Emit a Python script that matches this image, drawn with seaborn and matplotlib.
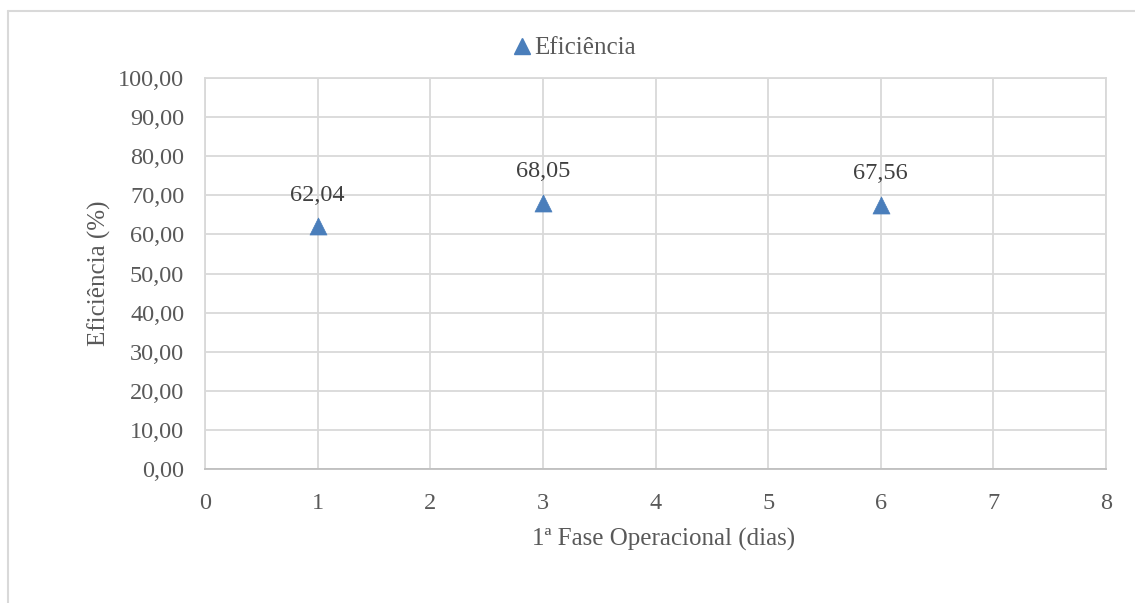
import matplotlib
matplotlib.use("Agg")
import matplotlib.pyplot as plt
import seaborn as sns
import pandas as pd
from matplotlib.lines import Line2D

# Efficiency measured during the first operational phase
dias = [1, 3, 6]
eficiencia = [62.04, 68.05, 67.56]
serie = "Eficiência"

sns.set_theme(style="white")
plt.rcParams["font.family"] = ["Liberation Serif", "DejaVu Serif"]

df = pd.DataFrame({"dias": dias, "eficiencia": eficiencia})

fig = plt.figure(figsize=(11.35, 6.03), dpi=100)
ax = fig.add_axes([205 / 1135, 1 - 469 / 603, (1106 - 205) / 1135, (469 - 78) / 603])

blue = "#4A7EBB"
text_col = "#595959"
grid_col = "#D9D9D9"

sns.scatterplot(data=df, x="dias", y="eficiencia", marker="^", s=150,
                color=blue, edgecolor=blue, linewidth=0.5, ax=ax, zorder=3,
                legend=False)

for x, y in zip(dias, eficiencia):
    ax.annotate(f"{y:.2f}".replace(".", ","), (x, y), xytext=(0, 15),
                textcoords="offset points", ha="center", va="bottom",
                fontsize=17.5, color="#404040")

ax.set_xlim(0, 8)
ax.set_ylim(0, 100)
ax.set_xticks(range(0, 9))
ax.set_yticks(range(0, 101, 10))
ax.set_yticklabels([f"{v:.2f}".replace(".", ",") for v in range(0, 101, 10)])
ax.tick_params(axis="both", labelsize=17.5, labelcolor=text_col, length=0)
ax.tick_params(axis="x", pad=17)
ax.tick_params(axis="y", pad=15)
ax.grid(True, color=grid_col, linewidth=1.3)
ax.set_axisbelow(True)
for side in ["top", "right", "left"]:
    ax.spines[side].set_color(grid_col)
    ax.spines[side].set_linewidth(1.3)
ax.spines["bottom"].set_color("#BFBFBF")
ax.spines["bottom"].set_linewidth(1.3)

ax.set_xlabel("1ª Fase Operacional (dias)", fontsize=18, color=text_col,
              labelpad=10, x=0.509)
ax.set_ylabel("Eficiência (%)", fontsize=18, color=text_col, labelpad=5)

handle = Line2D([], [], marker="^", linestyle="none", color=blue, markersize=11)
fig.legend([handle], [serie], loc="center", bbox_to_anchor=(573 / 1135, 1 - 48 / 603),
           frameon=False, fontsize=18, handletextpad=0.0, labelcolor=text_col,
           handlelength=1.0)

# Chart frame on the left and top edges
fig.add_artist(Line2D([8 / 1135, 8 / 1135], [0, 1 - 11 / 603], color=grid_col,
                      linewidth=1.5, transform=fig.transFigure))
fig.add_artist(Line2D([8 / 1135, 1], [1 - 11 / 603, 1 - 11 / 603], color=grid_col,
                      linewidth=1.5, transform=fig.transFigure))

fig.savefig("out.png", dpi=100)
